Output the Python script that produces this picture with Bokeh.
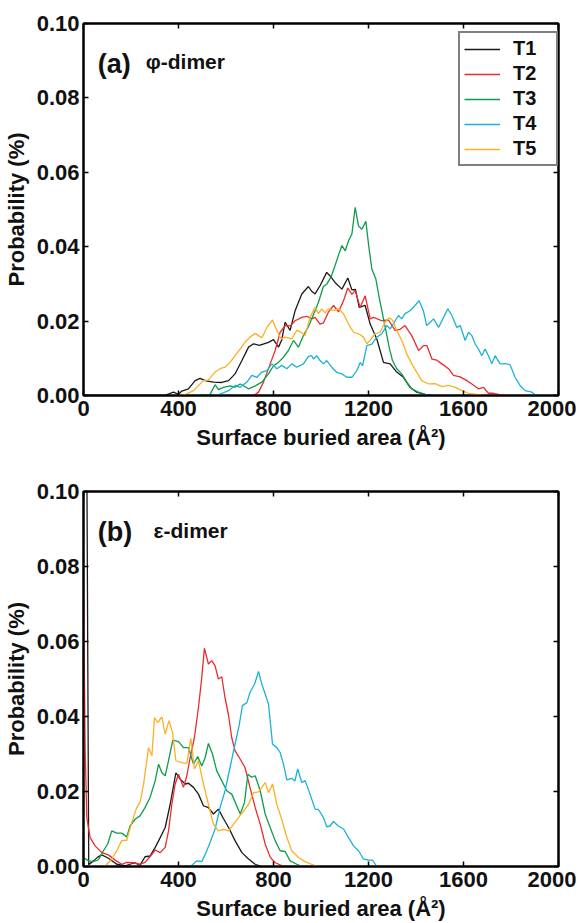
from bokeh.plotting import figure
from bokeh.models import Range1d, LinearAxis, FixedTicker, Legend, LegendItem, Label, NumeralTickFormatter
from bokeh.layouts import column
from bokeh.embed import file_html
from bokeh.resources import INLINE

# ---------------- data ----------------
series_names = ["T1", "T2", "T3", "T4", "T5"]
series_colors = ["#1a1a1a", "#ec2b2e", "#0d9d4b", "#1ab2d6", "#fbb025"]
x_ticks = [0, 400, 800, 1200, 1600, 2000]
y_ticks = [0.0, 0.02, 0.04, 0.06, 0.08, 0.10]

# panel (a): phi-dimer
a_t1_x = [0, 340, 379, 400, 414, 442, 470, 491, 512, 547, 582, 611, 638, 667, 695, 716, 740, 779, 800, 821, 835, 849, 870, 891, 919, 947, 961, 975, 996, 1024, 1040, 1059, 1088, 1113, 1130, 1145, 1161, 1186, 1207, 1235, 1263, 1291, 1319, 1347, 1375, 1403, 1445, 1470]
a_t1_y = [0, 0, 0.0009, 0.0003, 0.0012, 0.0018, 0.004, 0.0046, 0.004, 0.0036, 0.0035, 0.004, 0.0058, 0.0094, 0.013, 0.0139, 0.0135, 0.0143, 0.015, 0.013, 0.015, 0.0197, 0.0175, 0.0228, 0.0273, 0.0293, 0.028, 0.0273, 0.0295, 0.0331, 0.032, 0.0304, 0.0286, 0.0316, 0.0284, 0.0285, 0.0237, 0.0242, 0.0192, 0.0152, 0.0089, 0.0085, 0.0063, 0.0049, 0.0022, 0.0009, 0.0002, 0]

a_t2_x = [700, 716, 737, 758, 786, 807, 828, 849, 870, 891, 919, 940, 961, 975, 996, 1010, 1031, 1053, 1074, 1095, 1113, 1130, 1144, 1165, 1186, 1207, 1221, 1256, 1284, 1312, 1333, 1354, 1382, 1411, 1432, 1446, 1467, 1488, 1509, 1537, 1558, 1586, 1614, 1635, 1663, 1684, 1705, 1726, 1753, 1780]
a_t2_y = [0, 0, 0.0009, 0.0036, 0.0085, 0.0121, 0.017, 0.0188, 0.0187, 0.0201, 0.021, 0.0213, 0.0206, 0.021, 0.0192, 0.0195, 0.0224, 0.0242, 0.0225, 0.0255, 0.0289, 0.0272, 0.0282, 0.0237, 0.0268, 0.0206, 0.021, 0.0201, 0.0203, 0.0175, 0.0178, 0.0188, 0.0161, 0.0121, 0.0134, 0.0134, 0.0098, 0.0095, 0.0085, 0.0072, 0.0054, 0.005, 0.004, 0.0031, 0.0018, 0.0022, 0.0006, 0.0006, 0.0002, 0]

a_t3_x = [480, 533, 554, 568, 589, 617, 638, 660, 695, 723, 751, 779, 800, 821, 842, 863, 884, 905, 926, 947, 968, 989, 1010, 1025, 1042, 1059, 1073, 1088, 1102, 1116, 1130, 1144, 1158, 1172, 1189, 1200, 1214, 1231, 1245, 1259, 1273, 1287, 1301, 1319, 1340, 1361, 1382, 1410, 1438, 1460]
a_t3_y = [0, 0.0003, 0.0029, 0.0016, 0.0022, 0.0026, 0.0022, 0.0031, 0.0018, 0.0026, 0.0036, 0.0058, 0.008, 0.0089, 0.0103, 0.0121, 0.0148, 0.013, 0.0161, 0.0185, 0.0217, 0.025, 0.0293, 0.03, 0.0318, 0.0349, 0.0376, 0.0403, 0.0389, 0.0416, 0.0434, 0.0506, 0.0456, 0.0447, 0.0468, 0.0407, 0.034, 0.0313, 0.0264, 0.0219, 0.0175, 0.013, 0.0094, 0.0072, 0.0058, 0.0036, 0.0018, 0.0009, 0.0003, 0]

a_t4_x = [560, 611, 638, 660, 688, 709, 730, 751, 772, 793, 814, 835, 856, 877, 898, 926, 947, 961, 968, 982, 996, 1010, 1024, 1045, 1067, 1088, 1109, 1130, 1151, 1165, 1175, 1193, 1214, 1235, 1256, 1277, 1291, 1305, 1326, 1340, 1354, 1375, 1396, 1413, 1431, 1445, 1460, 1474, 1495, 1516, 1534, 1551, 1572, 1586, 1607, 1621, 1635, 1649, 1663, 1677, 1691, 1705, 1719, 1733, 1754, 1782, 1796, 1817, 1838, 1859, 1888, 1902, 1940]
a_t4_y = [0, 0.0013, 0.0027, 0.0022, 0.0036, 0.0054, 0.0049, 0.0063, 0.0067, 0.0085, 0.0072, 0.0081, 0.0072, 0.0085, 0.0076, 0.0085, 0.0105, 0.0107, 0.0098, 0.0107, 0.0094, 0.0085, 0.0094, 0.0076, 0.0062, 0.0058, 0.0049, 0.0049, 0.0067, 0.0089, 0.008, 0.0134, 0.0138, 0.0157, 0.0166, 0.0188, 0.0179, 0.0193, 0.0215, 0.0206, 0.022, 0.0228, 0.0242, 0.0255, 0.0228, 0.0188, 0.0197, 0.0206, 0.0183, 0.021, 0.0233, 0.0215, 0.0183, 0.0188, 0.0148, 0.017, 0.0161, 0.0139, 0.0125, 0.0107, 0.0125, 0.0107, 0.0085, 0.0107, 0.0085, 0.0085, 0.0083, 0.0049, 0.0027, 0.0013, 0.0009, 0.0002, 0]

a_t5_x = [400, 430, 463, 484, 505, 526, 554, 575, 596, 617, 638, 660, 680, 701, 723, 751, 772, 796, 814, 832, 849, 877, 898, 912, 933, 954, 975, 989, 1003, 1017, 1031, 1053, 1074, 1095, 1116, 1137, 1158, 1179, 1193, 1207, 1228, 1249, 1270, 1287, 1301, 1319, 1340, 1361, 1382, 1403, 1424, 1453, 1481, 1509, 1537, 1565, 1593, 1621, 1663, 1690]
a_t5_y = [0, 0.0003, 0.0013, 0.0027, 0.004, 0.0042, 0.0063, 0.0072, 0.0076, 0.0089, 0.0107, 0.0125, 0.0143, 0.0157, 0.0167, 0.0155, 0.0183, 0.0203, 0.0175, 0.0152, 0.0157, 0.0152, 0.0175, 0.0172, 0.0161, 0.021, 0.0237, 0.022, 0.0233, 0.0222, 0.0233, 0.0228, 0.0233, 0.0219, 0.0192, 0.017, 0.0166, 0.0157, 0.0139, 0.0148, 0.0166, 0.017, 0.0197, 0.0209, 0.0202, 0.0175, 0.0148, 0.0112, 0.0085, 0.0063, 0.004, 0.0031, 0.0032, 0.0024, 0.0027, 0.0022, 0.0013, 0.0006, 0.0002, 0]

# panel (b): epsilon-dimer
b_t1_x = [0, 14, 22, 42, 60, 77, 105, 140, 175, 217, 238, 259, 280, 302, 323, 344, 365, 379, 389, 407, 428, 442, 463, 484, 505, 526, 547, 568, 589, 611, 638, 667, 695, 723, 750]
b_t1_y = [0.15, 0.11, 0.0005, 0.0015, 0.0025, 0.0031, 0.0022, 0.0006, 0.0002, 0.001, 0.0003, 0.0026, 0.0028, 0.0051, 0.0077, 0.0104, 0.0166, 0.0215, 0.025, 0.0233, 0.022, 0.0222, 0.0211, 0.0193, 0.0162, 0.0157, 0.014, 0.0153, 0.0128, 0.0104, 0.0069, 0.0037, 0.002, 0.0006, 0]

b_t2_x = [0, 7, 14, 28, 49, 77, 105, 133, 161, 182, 210, 238, 259, 280, 302, 323, 344, 358, 372, 386, 400, 421, 435, 449, 467, 484, 498, 509, 526, 540, 554, 568, 582, 596, 611, 624, 638, 660, 680, 701, 723, 744, 765, 786, 807, 830, 850]
b_t2_y = [0.0744, 0.031, 0.013, 0.0077, 0.0055, 0.0037, 0.0031, 0.0017, 0.0006, 0.0011, 0.001, 0.0006, 0.0011, 0.0026, 0.0044, 0.0037, 0.0051, 0.0095, 0.0166, 0.022, 0.0246, 0.0211, 0.0242, 0.029, 0.0344, 0.0424, 0.0504, 0.0582, 0.054, 0.0549, 0.0535, 0.05, 0.0506, 0.045, 0.0402, 0.0344, 0.0309, 0.0286, 0.0264, 0.0211, 0.0157, 0.0113, 0.006, 0.0025, 0.001, 0.0004, 0]

b_t3_x = [0, 21, 42, 63, 84, 102, 119, 140, 161, 182, 196, 217, 238, 259, 280, 302, 316, 330, 344, 358, 376, 400, 421, 442, 463, 481, 498, 512, 526, 543, 561, 582, 603, 624, 645, 660, 678, 692, 708, 723, 744, 765, 786, 807, 828, 849, 870, 898, 920]
b_t3_y = [0.0024, 0.0015, 0.0013, 0.0018, 0.0042, 0.006, 0.0095, 0.0089, 0.0089, 0.0079, 0.0108, 0.0126, 0.0135, 0.0157, 0.0184, 0.0229, 0.0273, 0.025, 0.0242, 0.0282, 0.0337, 0.0333, 0.0317, 0.0317, 0.0273, 0.0293, 0.0268, 0.029, 0.0328, 0.03, 0.0255, 0.0229, 0.0202, 0.0193, 0.0162, 0.014, 0.0171, 0.0246, 0.0238, 0.0242, 0.0202, 0.014, 0.0104, 0.0069, 0.0042, 0.004, 0.0015, 0.0006, 0]

b_t4_x = [450, 477, 498, 519, 533, 554, 575, 596, 617, 638, 655, 669, 688, 701, 720, 737, 751, 765, 779, 796, 814, 828, 842, 856, 877, 890, 902, 919, 933, 954, 975, 989, 1010, 1024, 1038, 1052, 1073, 1095, 1116, 1137, 1158, 1179, 1200, 1217, 1235]
b_t4_y = [0, 0.0015, 0.0013, 0.0042, 0.0064, 0.01, 0.0157, 0.0202, 0.0264, 0.0326, 0.0375, 0.0429, 0.0437, 0.0464, 0.0486, 0.052, 0.0486, 0.046, 0.0433, 0.0326, 0.0317, 0.0304, 0.0273, 0.0231, 0.0235, 0.0228, 0.026, 0.0224, 0.0229, 0.0193, 0.0153, 0.0152, 0.0131, 0.0106, 0.0108, 0.012, 0.0108, 0.01, 0.0077, 0.0055, 0.0042, 0.002, 0.0017, 0.0017, 0]

b_t5_x = [0, 90, 119, 140, 161, 182, 203, 224, 238, 253, 274, 288, 299, 313, 330, 344, 360, 375, 389, 414, 435, 452, 467, 484, 505, 526, 547, 568, 589, 611, 632, 653, 674, 695, 716, 737, 751, 765, 779, 796, 814, 835, 856, 877, 905, 933, 960, 989]
b_t5_y = [0, 0, 0.002, 0.0042, 0.0069, 0.007, 0.0117, 0.0157, 0.0171, 0.022, 0.0317, 0.0295, 0.0397, 0.0384, 0.0399, 0.0353, 0.0389, 0.0357, 0.0282, 0.0277, 0.0275, 0.0342, 0.026, 0.0282, 0.022, 0.0166, 0.0113, 0.0095, 0.0099, 0.0095, 0.0113, 0.0131, 0.0148, 0.0166, 0.0197, 0.0199, 0.0211, 0.0224, 0.0197, 0.022, 0.0166, 0.0125, 0.0078, 0.0042, 0.0024, 0.0013, 0.0006, 0]

panel_a = [(a_t1_x, a_t1_y), (a_t2_x, a_t2_y), (a_t3_x, a_t3_y), (a_t4_x, a_t4_y), (a_t5_x, a_t5_y)]
panel_b = [(b_t1_x, b_t1_y), (b_t2_x, b_t2_y), (b_t3_x, b_t3_y), (b_t4_x, b_t4_y), (b_t5_x, b_t5_y)]

FONT = "Liberation Sans"
XLABEL = "Surface buried area (Å²)"
YLABEL = "Probability (%)"


def style_axis(ax, ticks, labels=True):
    ax.ticker = FixedTicker(ticks=ticks)
    ax.axis_line_color = "black"
    ax.axis_line_width = 2
    ax.major_tick_line_color = "black"
    ax.major_tick_line_width = 1.5
    ax.major_tick_in = 5
    ax.major_tick_out = 0
    ax.minor_tick_line_color = None
    ax.major_label_text_font = FONT
    ax.major_label_text_font_style = "bold"
    ax.major_label_text_font_size = "22px"
    ax.major_label_text_color = "#111111"
    ax.axis_label_text_font = FONT
    ax.axis_label_text_font_style = "bold"
    ax.axis_label_text_font_size = "22px"
    ax.axis_label_text_color = "#111111"
    if not labels:
        ax.major_label_overrides = {t: "" for t in ticks}
        ax.major_label_standoff = 0


def make_panel(data, tag, name, tag_y, name_x, min_top, min_bottom, legend):
    p = figure(frame_width=475, frame_height=372 if legend else 375,
               x_range=Range1d(0, 2000), y_range=Range1d(0, 0.1),
               output_backend="svg", toolbar_location=None,
               min_border_left=74, min_border_right=18,
               min_border_top=min_top, min_border_bottom=min_bottom,
               background_fill_color="white", border_fill_color="white")
    p.grid.visible = False
    p.outline_line_color = "black"
    p.outline_line_width = 2
    p.xaxis.axis_label = XLABEL
    p.yaxis.axis_label = YLABEL
    for ax in p.xaxis:
        style_axis(ax, x_ticks)
    for ax in p.yaxis:
        style_axis(ax, y_ticks)
    p.xaxis.major_label_standoff = 5
    p.xaxis.axis_label_standoff = 6
    p.yaxis.major_label_standoff = 4
    p.yaxis.axis_label_standoff = 5
    p.yaxis.formatter = NumeralTickFormatter(format="0.00")
    top = LinearAxis()
    style_axis(top, x_ticks, labels=False)
    p.add_layout(top, "above")
    right = LinearAxis()
    style_axis(right, y_ticks, labels=False)
    p.add_layout(right, "right")

    renderers = []
    for (xs, ys), c in zip(data, series_colors):
        r = p.line(xs, ys, line_color=c, line_width=1.3)
        renderers.append(r)

    p.add_layout(Label(x=60, y=tag_y, text=tag, text_font=FONT, text_font_style="bold",
                       text_font_size="27px", text_color="#111111", text_baseline="alphabetic"))
    p.add_layout(Label(x=name_x, y=tag_y + 0.0006, text=name, text_font=FONT, text_font_style="bold",
                       text_font_size="21px", text_color="#111111", text_baseline="alphabetic"))

    if legend:
        items = [LegendItem(label=n, renderers=[r]) for n, r in zip(series_names, renderers)]
        lg = Legend(items=items, location=(375, 229), orientation="vertical",
                    label_text_font=FONT, label_text_font_style="bold", label_text_font_size="20px",
                    label_text_color="#111111",
                    glyph_width=36, glyph_height=20, label_height=20, label_width=39,
                    label_standoff=13, spacing=2, padding=4, margin=0,
                    border_line_color="black", border_line_width=2,
                    background_fill_color="white", background_fill_alpha=1)
        p.add_layout(lg, "center")
    return p


p1 = make_panel(panel_a, "(a)", "φ-dimer", 0.0891, 262, 23, 70, True)
p2 = make_panel(panel_b, "(b)", "ε-dimer", 0.0891, 295, 26, 49, False)

layout = column(p1, p2, spacing=0)
open("out.html", "w").write(file_html(layout, INLINE))
